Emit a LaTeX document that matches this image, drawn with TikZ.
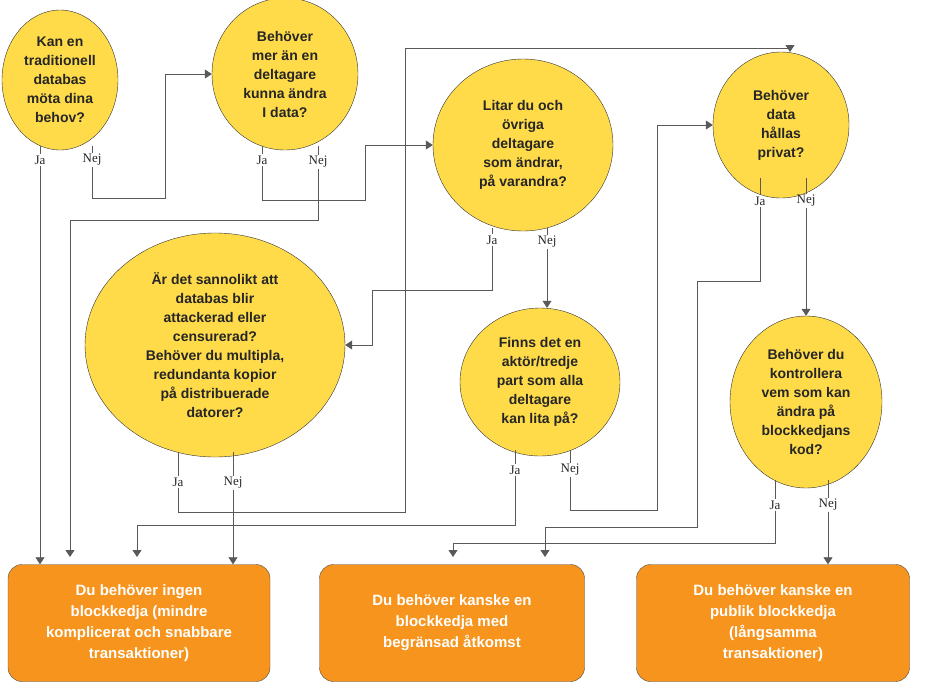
\documentclass[tikz,border=0pt]{standalone}
\usepackage{fontspec}
\setmainfont{Liberation Serif}
\setsansfont{Liberation Sans}
\usetikzlibrary{shapes.geometric,arrows.meta}
\definecolor{qyellow}{HTML}{FFDB4A}
\definecolor{qorange}{HTML}{F7941D}
\tikzset{question/.style={ellipse,draw=black!80,fill=qyellow,align=center,inner sep=0pt,
  font=\sffamily\bfseries\fontsize{14}{19}\selectfont,text=black!85},
  answer/.style={rounded corners=14pt,draw=black!70,fill=qorange,align=center,
  font=\sffamily\bfseries\fontsize{15}{21}\selectfont,text=white,minimum height=117pt},
  reply/.style={font=\fontsize{13}{15}\selectfont,inner sep=1pt,text=black!85},
  wire/.style={draw=black!65,thick},
  go/.style={wire,-{Triangle[length=7pt,width=9pt]}}}

\begin{document}
\begin{tikzpicture}[x=1pt,y=-1pt]
\useasboundingbox (0,0) rectangle (947,689);
% questions
\node[question,minimum width=116pt,minimum height=140pt] (q1) at (60,80) {Kan en\\traditionell\\databas\\möta dina\\behov?};
\node[question,minimum width=146pt,minimum height=152pt] (q2) at (285,74) {Behöver\\mer än en\\deltagare\\kunna ändra\\I data?};
\node[question,minimum width=180pt,minimum height=172pt] (q3) at (523,145) {Litar du och\\övriga\\deltagare\\som ändrar,\\på varandra?};
\node[question,minimum width=136pt,minimum height=146pt] (q4) at (781,125) {Behöver\\data\\hållas\\privat?};
\node[question,minimum width=260pt,minimum height=224pt] (q5) at (215,345) {Är det sannolikt att\\databas blir\\attackerad eller\\censurerad?\\Behöver du multipla,\\redundanta kopior\\på distribuerade\\datorer?};
\node[question,minimum width=160pt,minimum height=148pt] (q6) at (540,382) {Finns det en\\aktör/tredje\\part som alla\\deltagare\\kan lita på?};
\node[question,minimum width=152pt,minimum height=172pt] (q7) at (806,402) {Behöver du\\kontrollera\\vem som kan\\ändra på\\blockkedjans\\kod?};
% outcomes
\node[answer,minimum width=262pt] (a1) at (139,623) {Du behöver ingen\\blockkedja (mindre\\komplicerat och snabbare\\transaktioner)};
\node[answer,minimum width=265pt] (a2) at (452,623) {Du behöver kanske en\\blockkedja med\\begränsad åtkomst};
\node[answer,minimum width=273pt] (a3) at (773,623) {Du behöver kanske en\\publik blockkedja\\(långsamma\\transaktioner)};
% answers
\foreach \n/\t/\x/\y/\s in {j1/Ja/40/160/146, n1/Nej/92/160/146, j2/Ja/262/160/146, n2/Nej/318/162/146,
  j3/Ja/492/240/228, n3/Nej/547/242/228, j4/Ja/760/201/178, n4/Nej/806/201/178,
  j5/Ja/178/482/452, n5/Nej/233/483/452, j6/Ja/515/470/450, n6/Nej/570/470/450,
  j7/Ja/775/505/480, n7/Nej/828/505/480}{
  \node[reply] (\n) at (\x,\y) {\t};
  \draw[wire] (\x,\s) -- (\n.north);
}
% connectors
\draw[go] (j1.south) -- (j1.south |- a1.north);
\draw[go] (n1.south) |- (165,198) |- (q2.west);
\draw[go] (j2.south) |- (365,200) |- (q3.west);
\draw[go] (n2.south) |- (70,220) -- (70,557);
\draw[go] (j3.south) |- (372,290) |- (q5.east);
\draw[go] (n3.south) -- (n3.south |- q6.north);
\draw[go] (j4.south) |- (697,281) |- (545,527) -- (545,557);
\draw[go] (n4.south) -- (n4.south |- q7.north);
\draw[go] (j5.south) |- (405,512) |- (790,48) -- (790,52);
\draw[go] (n5.south) -- (n5.south |- a1.north);
\draw[go] (j6.south) |- (137,525) -- (137,557);
\draw[go] (n6.south) |- (657,510) |- (q4.west);
\draw[go] (j7.south) |- (453,543) -- (453,557);
\draw[go] (n7.south) -- (n7.south |- a3.north);
\end{tikzpicture}
\end{document}
